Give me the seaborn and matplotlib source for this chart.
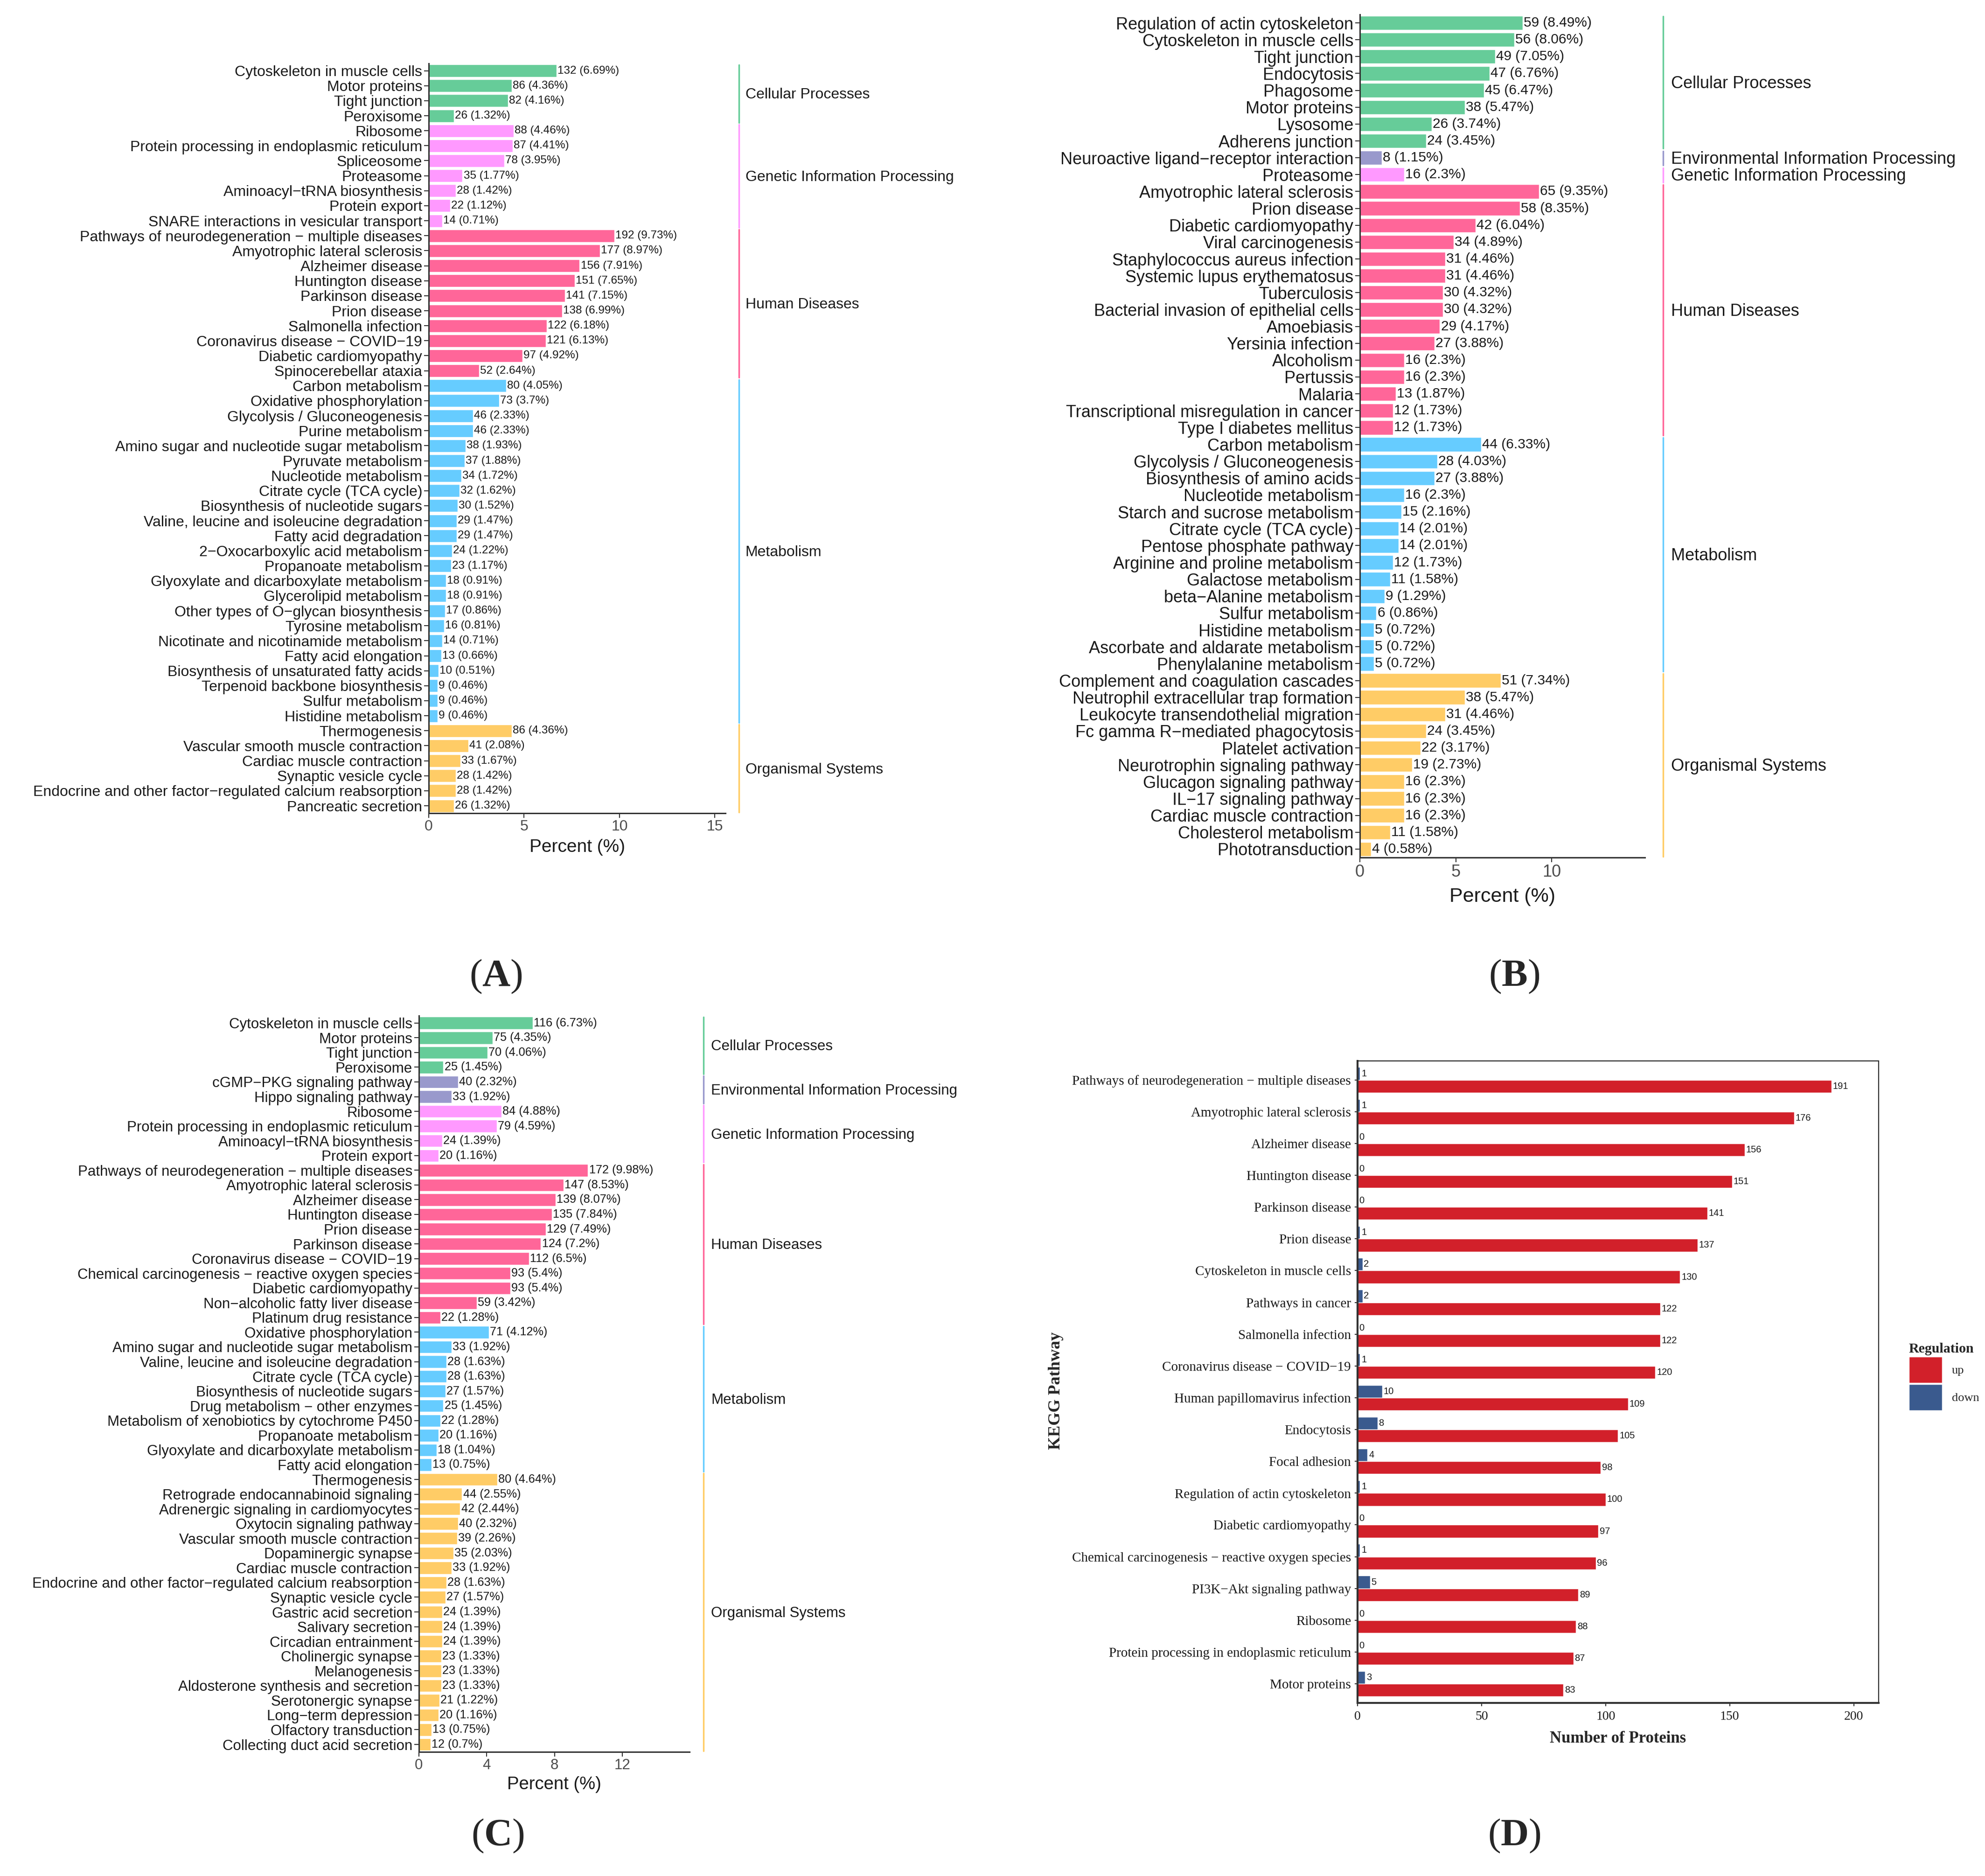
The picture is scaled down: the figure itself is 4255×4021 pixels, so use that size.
import matplotlib
matplotlib.use('Agg')
import matplotlib.pyplot as plt
from matplotlib import transforms
from matplotlib.patches import Patch
import numpy as np
import pandas as pd
import seaborn as sns

# ---------------- panel A ----------------
a_names = [
    'Cytoskeleton in muscle cells', 'Motor proteins', 'Tight junction', 'Peroxisome',
    'Ribosome', 'Protein processing in endoplasmic reticulum', 'Spliceosome', 'Proteasome',
    'Aminoacyl−tRNA biosynthesis', 'Protein export', 'SNARE interactions in vesicular transport',
    'Pathways of neurodegeneration − multiple diseases', 'Amyotrophic lateral sclerosis',
    'Alzheimer disease', 'Huntington disease', 'Parkinson disease', 'Prion disease',
    'Salmonella infection', 'Coronavirus disease − COVID−19', 'Diabetic cardiomyopathy',
    'Spinocerebellar ataxia',
    'Carbon metabolism', 'Oxidative phosphorylation', 'Glycolysis / Gluconeogenesis',
    'Purine metabolism', 'Amino sugar and nucleotide sugar metabolism', 'Pyruvate metabolism',
    'Nucleotide metabolism', 'Citrate cycle (TCA cycle)', 'Biosynthesis of nucleotide sugars',
    'Valine, leucine and isoleucine degradation', 'Fatty acid degradation',
    '2−Oxocarboxylic acid metabolism', 'Propanoate metabolism',
    'Glyoxylate and dicarboxylate metabolism', 'Glycerolipid metabolism',
    'Other types of O−glycan biosynthesis', 'Tyrosine metabolism',
    'Nicotinate and nicotinamide metabolism', 'Fatty acid elongation',
    'Biosynthesis of unsaturated fatty acids', 'Terpenoid backbone biosynthesis',
    'Sulfur metabolism', 'Histidine metabolism',
    'Thermogenesis', 'Vascular smooth muscle contraction', 'Cardiac muscle contraction',
    'Synaptic vesicle cycle', 'Endocrine and other factor−regulated calcium reabsorption',
    'Pancreatic secretion',
]
a_counts = [132, 86, 82, 26, 88, 87, 78, 35, 28, 22, 14,
            192, 177, 156, 151, 141, 138, 122, 121, 97, 52,
            80, 73, 46, 46, 38, 37, 34, 32, 30, 29, 29, 24, 23, 18, 18, 17, 16, 14, 13, 10, 9, 9, 9,
            86, 41, 33, 28, 28, 26]
a_pcts = [6.69, 4.36, 4.16, 1.32, 4.46, 4.41, 3.95, 1.77, 1.42, 1.12, 0.71,
          9.73, 8.97, 7.91, 7.65, 7.15, 6.99, 6.18, 6.13, 4.92, 2.64,
          4.05, 3.7, 2.33, 2.33, 1.93, 1.88, 1.72, 1.62, 1.52, 1.47, 1.47, 1.22, 1.17, 0.91, 0.91,
          0.86, 0.81, 0.71, 0.66, 0.51, 0.46, 0.46, 0.46,
          4.36, 2.08, 1.67, 1.42, 1.42, 1.32]
a_groups = [('Cellular Processes', 4), ('Genetic Information Processing', 7),
            ('Human Diseases', 10), ('Metabolism', 23), ('Organismal Systems', 6)]

# ---------------- panel B ----------------
b_names = [
    'Regulation of actin cytoskeleton', 'Cytoskeleton in muscle cells', 'Tight junction',
    'Endocytosis', 'Phagosome', 'Motor proteins', 'Lysosome', 'Adherens junction',
    'Neuroactive ligand−receptor interaction', 'Proteasome',
    'Amyotrophic lateral sclerosis', 'Prion disease', 'Diabetic cardiomyopathy',
    'Viral carcinogenesis', 'Staphylococcus aureus infection', 'Systemic lupus erythematosus',
    'Tuberculosis', 'Bacterial invasion of epithelial cells', 'Amoebiasis', 'Yersinia infection',
    'Alcoholism', 'Pertussis', 'Malaria', 'Transcriptional misregulation in cancer',
    'Type I diabetes mellitus',
    'Carbon metabolism', 'Glycolysis / Gluconeogenesis', 'Biosynthesis of amino acids',
    'Nucleotide metabolism', 'Starch and sucrose metabolism', 'Citrate cycle (TCA cycle)',
    'Pentose phosphate pathway', 'Arginine and proline metabolism', 'Galactose metabolism',
    'beta−Alanine metabolism', 'Sulfur metabolism', 'Histidine metabolism',
    'Ascorbate and aldarate metabolism', 'Phenylalanine metabolism',
    'Complement and coagulation cascades', 'Neutrophil extracellular trap formation',
    'Leukocyte transendothelial migration', 'Fc gamma R−mediated phagocytosis',
    'Platelet activation', 'Neurotrophin signaling pathway', 'Glucagon signaling pathway',
    'IL−17 signaling pathway', 'Cardiac muscle contraction', 'Cholesterol metabolism',
    'Phototransduction',
]
b_counts = [59, 56, 49, 47, 45, 38, 26, 24, 8, 16,
            65, 58, 42, 34, 31, 31, 30, 30, 29, 27, 16, 16, 13, 12, 12,
            44, 28, 27, 16, 15, 14, 14, 12, 11, 9, 6, 5, 5, 5,
            51, 38, 31, 24, 22, 19, 16, 16, 16, 11, 4]
b_pcts = [8.49, 8.06, 7.05, 6.76, 6.47, 5.47, 3.74, 3.45, 1.15, 2.3,
          9.35, 8.35, 6.04, 4.89, 4.46, 4.46, 4.32, 4.32, 4.17, 3.88, 2.3, 2.3, 1.87, 1.73, 1.73,
          6.33, 4.03, 3.88, 2.3, 2.16, 2.01, 2.01, 1.73, 1.58, 1.29, 0.86, 0.72, 0.72, 0.72,
          7.34, 5.47, 4.46, 3.45, 3.17, 2.73, 2.3, 2.3, 2.3, 1.58, 0.58]
b_groups = [('Cellular Processes', 8), ('Environmental Information Processing', 1),
            ('Genetic Information Processing', 1), ('Human Diseases', 15),
            ('Metabolism', 14), ('Organismal Systems', 11)]

# ---------------- panel C ----------------
c_names = [
    'Cytoskeleton in muscle cells', 'Motor proteins', 'Tight junction', 'Peroxisome',
    'cGMP−PKG signaling pathway', 'Hippo signaling pathway',
    'Ribosome', 'Protein processing in endoplasmic reticulum', 'Aminoacyl−tRNA biosynthesis',
    'Protein export',
    'Pathways of neurodegeneration − multiple diseases', 'Amyotrophic lateral sclerosis',
    'Alzheimer disease', 'Huntington disease', 'Prion disease', 'Parkinson disease',
    'Coronavirus disease − COVID−19', 'Chemical carcinogenesis − reactive oxygen species',
    'Diabetic cardiomyopathy', 'Non−alcoholic fatty liver disease', 'Platinum drug resistance',
    'Oxidative phosphorylation', 'Amino sugar and nucleotide sugar metabolism',
    'Valine, leucine and isoleucine degradation', 'Citrate cycle (TCA cycle)',
    'Biosynthesis of nucleotide sugars', 'Drug metabolism − other enzymes',
    'Metabolism of xenobiotics by cytochrome P450', 'Propanoate metabolism',
    'Glyoxylate and dicarboxylate metabolism', 'Fatty acid elongation',
    'Thermogenesis', 'Retrograde endocannabinoid signaling', 'Adrenergic signaling in cardiomyocytes',
    'Oxytocin signaling pathway', 'Vascular smooth muscle contraction', 'Dopaminergic synapse',
    'Cardiac muscle contraction', 'Endocrine and other factor−regulated calcium reabsorption',
    'Synaptic vesicle cycle', 'Gastric acid secretion', 'Salivary secretion',
    'Circadian entrainment', 'Cholinergic synapse', 'Melanogenesis',
    'Aldosterone synthesis and secretion', 'Serotonergic synapse', 'Long−term depression',
    'Olfactory transduction', 'Collecting duct acid secretion',
]
c_counts = [116, 75, 70, 25, 40, 33, 84, 79, 24, 20,
            172, 147, 139, 135, 129, 124, 112, 93, 93, 59, 22,
            71, 33, 28, 28, 27, 25, 22, 20, 18, 13,
            80, 44, 42, 40, 39, 35, 33, 28, 27, 24, 24, 24, 23, 23, 23, 21, 20, 13, 12]
c_pcts = [6.73, 4.35, 4.06, 1.45, 2.32, 1.92, 4.88, 4.59, 1.39, 1.16,
          9.98, 8.53, 8.07, 7.84, 7.49, 7.2, 6.5, 5.4, 5.4, 3.42, 1.28,
          4.12, 1.92, 1.63, 1.63, 1.57, 1.45, 1.28, 1.16, 1.04, 0.75,
          4.64, 2.55, 2.44, 2.32, 2.26, 2.03, 1.92, 1.63, 1.57, 1.39, 1.39, 1.39, 1.33, 1.33,
          1.33, 1.22, 1.16, 0.75, 0.7]
c_groups = [('Cellular Processes', 4), ('Environmental Information Processing', 2),
            ('Genetic Information Processing', 4), ('Human Diseases', 11),
            ('Metabolism', 10), ('Organismal Systems', 19)]

# ---------------- panel D ----------------
d_names = [
    'Pathways of neurodegeneration − multiple diseases', 'Amyotrophic lateral sclerosis',
    'Alzheimer disease', 'Huntington disease', 'Parkinson disease', 'Prion disease',
    'Cytoskeleton in muscle cells', 'Pathways in cancer', 'Salmonella infection',
    'Coronavirus disease − COVID−19', 'Human papillomavirus infection', 'Endocytosis',
    'Focal adhesion', 'Regulation of actin cytoskeleton', 'Diabetic cardiomyopathy',
    'Chemical carcinogenesis − reactive oxygen species', 'PI3K−Akt signaling pathway',
    'Ribosome', 'Protein processing in endoplasmic reticulum', 'Motor proteins',
]
d_up = [191, 176, 156, 151, 141, 137, 130, 122, 122, 120, 109, 105, 98, 100, 97, 96, 89, 88, 87, 83]
d_down = [1, 1, 0, 0, 0, 1, 2, 2, 0, 1, 10, 8, 4, 1, 0, 1, 5, 0, 0, 3]

group_colors = {
    'Cellular Processes': '#66CC99',
    'Environmental Information Processing': '#9999CC',
    'Genetic Information Processing': '#FF99FF',
    'Human Diseases': '#FF6699',
    'Metabolism': '#66CCFF',
    'Organismal Systems': '#FFCC66',
}
reg_colors = {'up': '#D2202A', 'down': '#3A5A8E'}

sns.set_theme(style='ticks')
plt.rcParams['font.family'] = ['Liberation Sans', 'DejaVu Sans']
plt.rcParams['mathtext.fontset'] = 'custom'
plt.rcParams['mathtext.bf'] = 'Liberation Serif:bold'
plt.rcParams['mathtext.rm'] = 'Liberation Serif'
SERIF = ['Liberation Serif', 'DejaVu Serif']

fig = plt.figure(figsize=(42.55, 40.21), dpi=100)


def pct_panel(ax, names, counts, pcts, groups, xmax, xticks, fs, fs_val, fs_x, bx, lx, ylab):
    grp = []
    for g, k in groups:
        grp += [g] * k
    df = pd.DataFrame({'name': names, 'pct': pcts, 'group': grp})
    sns.barplot(data=df, x='pct', y='name', hue='group', palette=group_colors,
                dodge=False, width=0.84, saturation=1, legend=False, ax=ax)
    n = len(names)
    ax.set_xlim(0, xmax)
    ax.set_ylim(n - 0.5, -0.5)
    labels = [f'{c} ({p:g}%)' for c, p in zip(counts, pcts)]
    for cont in ax.containers:
        labs = []
        for b in cont:
            if np.isnan(b.get_width()):
                labs.append('')
            else:
                labs.append(labels[int(round(b.get_y() + b.get_height() / 2))])
        ax.bar_label(cont, labels=labs, padding=1.5, fontsize=fs_val, color='#1a1a1a')

    # coloured brackets with the KEGG class names
    trans = transforms.blended_transform_factory(ax.transAxes, ax.transData)
    start = 0
    for g, k in groups:
        ax.plot([bx, bx], [start - 0.4, start + k - 1 + 0.45], color=group_colors[g],
                lw=2.5, transform=trans, clip_on=False)
        ax.text(lx, start + (k - 1) / 2 + 0.1, g, transform=trans, ha='left', va='center',
                fontsize=fs, color='#1a1a1a')
        start += k

    sns.despine(ax=ax)
    for s in ['left', 'bottom']:
        ax.spines[s].set_color('#333333')
        ax.spines[s].set_linewidth(2.2)
    ax.set_xticks(xticks)
    ax.tick_params(axis='y', length=7, width=1.5, color='#333333', pad=3,
                   labelsize=fs, labelcolor='#1a1a1a')
    ax.tick_params(axis='x', length=7, width=1.5, color='#333333', pad=3,
                   labelsize=fs, labelcolor='#4d4d4d')
    ax.set_ylabel('')
    ax.set_xlabel('Percent (%)', fontsize=fs_x, color='#1a1a1a')
    ax.xaxis.set_label_coords(0.5, ylab)
    ax.xaxis.label.set_va('center')


ax_a = fig.add_axes([0.2160, 0.5665, 0.1495, 0.3998])
pct_panel(ax_a, a_names, a_counts, a_pcts, a_groups, 15.56, [0, 5, 10, 15],
          23, 17.5, 28, 1.045, 1.067, -0.0454)

ax_b = fig.add_axes([0.6851, 0.5429, 0.1436, 0.4494])
pct_panel(ax_b, b_names, b_counts, b_pcts, b_groups, 14.87, [0, 5, 10],
          26, 21.5, 31, 1.063, 1.092, -0.0465)

ax_c = fig.add_axes([0.2110, 0.0662, 0.1363, 0.3924])
pct_panel(ax_c, c_names, c_counts, c_pcts, c_groups, 15.96, [0, 4, 8, 12],
          22.5, 18.2, 27.5, 1.052, 1.080, -0.0444)

# ---------------- panel D: up / down counts ----------------
ax_d = fig.add_axes([0.6839, 0.0923, 0.2625, 0.3422])
d_long = pd.DataFrame({
    'name': d_names + d_names,
    'reg': ['up'] * len(d_names) + ['down'] * len(d_names),
    'count': d_up + d_down,
})
sns.barplot(data=d_long, x='count', y='name', hue='reg', hue_order=['down', 'up'],
            palette=reg_colors, width=0.8, saturation=1, legend=False, ax=ax_d)
for cont in ax_d.containers:
    ax_d.bar_label(cont, fmt='%d', padding=2, fontsize=14.5, color='#1a1a1a')
ax_d.set_xlim(0, 210)
ax_d.set_ylim(len(d_names) - 0.4, -0.6)
ax_d.set_xticks([0, 50, 100, 150, 200])
for s in ['top', 'right']:
    ax_d.spines[s].set_linewidth(1.5)
    ax_d.spines[s].set_color('#222222')
for s in ['left', 'bottom']:
    ax_d.spines[s].set_linewidth(3)
    ax_d.spines[s].set_color('#333333')
ax_d.tick_params(axis='y', length=4, width=1.5, color='#333333', pad=6, labelsize=21)
ax_d.tick_params(axis='x', length=5, width=1.5, color='#333333', pad=7, labelsize=20)
for lab in ax_d.get_xticklabels() + ax_d.get_yticklabels():
    lab.set_fontfamily(SERIF)
    lab.set_color('#1a1a1a')
ax_d.set_xlabel('Number of Proteins', fontsize=25, fontweight='bold', family=SERIF)
ax_d.xaxis.set_label_coords(0.5, -0.056)
ax_d.xaxis.label.set_va('center')
ax_d.set_ylabel('KEGG Pathway', fontsize=26, fontweight='bold', family=SERIF)
ax_d.yaxis.set_label_coords(-0.579, 0.486)
ax_d.yaxis.label.set_va('center')
ax_d.yaxis.label.set_ha('center')

handles = [Patch(facecolor=reg_colors['up']), Patch(facecolor=reg_colors['down'])]
leg = fig.legend(handles, ['up', 'down'], title='Regulation', loc='upper left',
                 bbox_to_anchor=(0.9585, 0.2875), frameon=False, borderpad=0,
                 handlelength=2.7, handleheight=2.9, labelspacing=0.1, handletextpad=0.8,
                 prop={'family': SERIF, 'size': 19},
                 title_fontproperties={'family': SERIF, 'size': 21.5, 'weight': 'bold'},
                 alignment='left')

# ---------------- panel letters: regular parentheses, bold letter ----------------
for letter, x, y in [('A', 0.2499, 0.4795), ('B', 0.7629, 0.4795),
                     ('C', 0.2508, 0.0214), ('D', 0.7629, 0.0214)]:
    fig.text(x, y, '($\\mathbf{' + letter + '}$)', ha='center', va='center',
             fontsize=60, family=SERIF)

fig.savefig('out.png', dpi=100, facecolor='white')
